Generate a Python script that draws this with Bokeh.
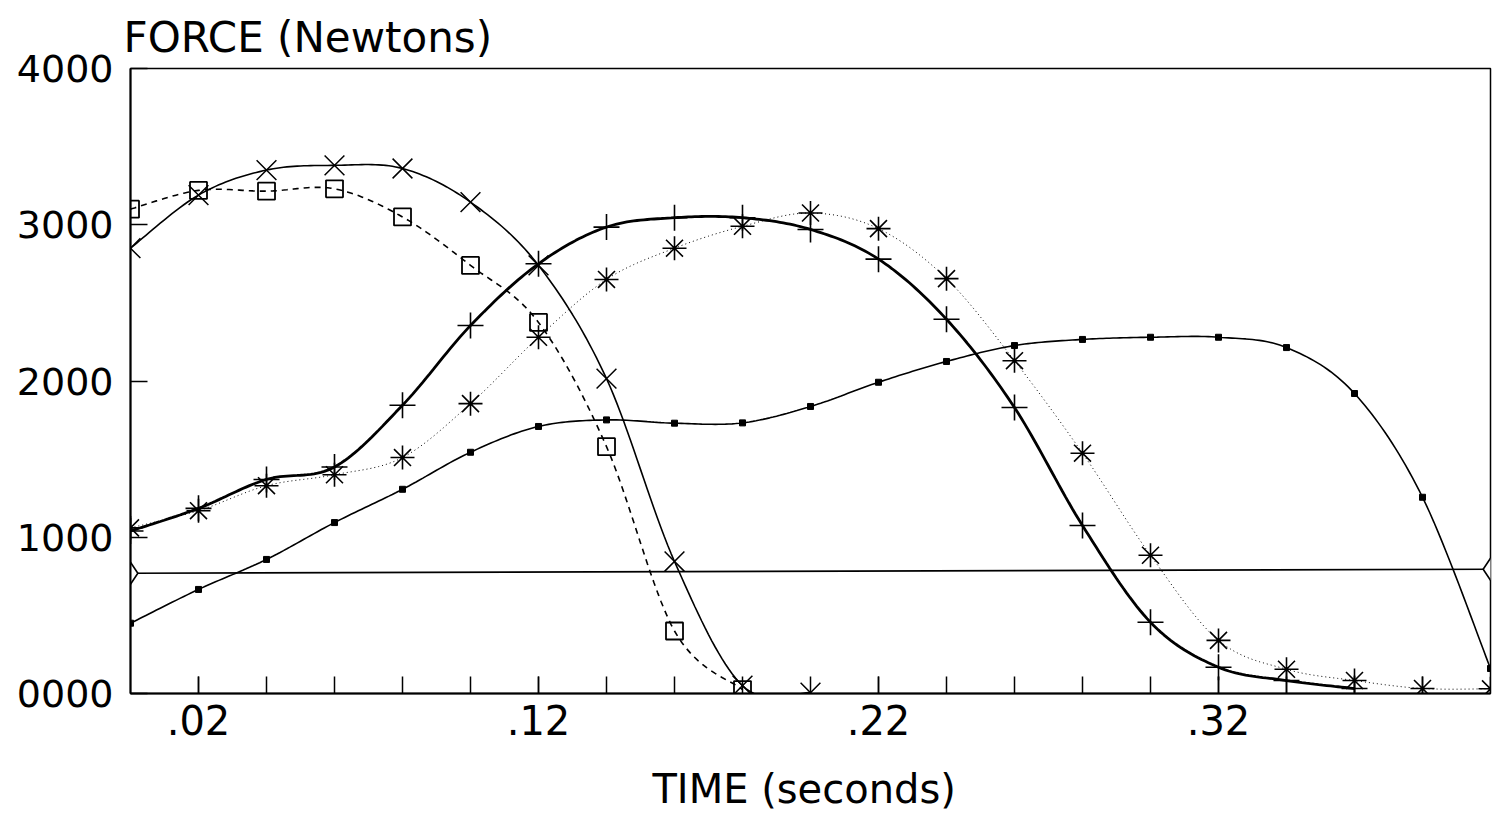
import numpy as np
from bokeh.plotting import figure
from bokeh.models import FixedTicker, Range1d
from bokeh.embed import file_html
from bokeh.resources import INLINE

# ---- data ----
time_s = [0.00, 0.02, 0.04, 0.06, 0.08, 0.10, 0.12, 0.14, 0.16, 0.18, 0.20,
          0.22, 0.24, 0.26, 0.28, 0.30, 0.32, 0.34, 0.36, 0.38, 0.40]

force_cross = [2850, 3190, 3350, 3380, 3360, 3145, 2740, 2015, 845, 50, 5]
force_square = [3100, 3220, 3215, 3230, 3050, 2740, 2375, 1580, 400, 25]
force_plus = [1040, 1185, 1370, 1450, 1845, 2355, 2750, 2985, 3045, 3045, 2970,
              2780, 2395, 1830, 1075, 456, 168, 83, 32]
force_asterisk = [1060, 1170, 1330, 1400, 1510, 1855, 2280, 2650, 2850, 2990, 3075,
                  2975, 2655, 2130, 1538, 885, 340, 155, 83, 32, 30]
force_dot = [450, 666, 858, 1094, 1307, 1544, 1709, 1751, 1730, 1732, 1837,
             1992, 2125, 2227, 2266, 2280, 2280, 2214, 1920, 1256, 160]
diamond_time = [0.00, 0.40]
force_diamond = [770, 795]

x_tick_values = [0.02, 0.12, 0.22, 0.32]
x_tick_labels = [".02", ".12", ".22", ".32"]
y_tick_values = [0, 1000, 2000, 3000, 4000]
y_tick_labels = ["0000", "1000", "2000", "3000", "4000"]

FONT = "DejaVu Sans"


def smooth(xs, ys, n=20):
    """Catmull-Rom curve through the given points (for drawing the line only)."""
    P = np.column_stack([np.asarray(xs, float), np.asarray(ys, float)])
    out = []
    m = len(P)
    for i in range(m - 1):
        p0 = P[i - 1] if i > 0 else P[i]
        p1 = P[i]
        p2 = P[i + 1]
        p3 = P[i + 2] if i + 2 < m else P[i + 1]
        t = np.linspace(0, 1, n, endpoint=(i == m - 2))[:, None]
        seg = 0.5 * (2 * p1 + (-p0 + p2) * t + (2 * p0 - 5 * p1 + 4 * p2 - p3) * t ** 2
                     + (-p0 + 3 * p1 - 3 * p2 + p3) * t ** 3)
        out.append(seg)
    c = np.vstack(out)
    return c[:, 0], c[:, 1]


p = figure(width=1500, height=815,
           x_range=Range1d(0, 0.4), y_range=Range1d(0, 4000),
           output_backend="svg", toolbar_location=None,
           min_border_left=130, min_border_right=10,
           min_border_top=68, min_border_bottom=122,
           title="FORCE (Newtons)")

p.title.text_font = FONT
p.title.text_font_size = "42px"
p.title.text_font_style = "normal"
p.title.text_color = "black"
p.title.align = "left"
p.title.offset = -7
p.title.standoff = 14

p.xgrid.visible = False
p.ygrid.visible = False
p.outline_line_color = "black"
p.outline_line_width = 1.5
p.background_fill_color = "white"
p.border_fill_color = "white"

# x axis
xa = p.xaxis[0]
xa.ticker = FixedTicker(ticks=x_tick_values,
                        minor_ticks=[round(0.02 * i, 2) for i in range(1, 20)])
xa.major_label_overrides = {v: s for v, s in zip(x_tick_values, x_tick_labels)}
xa.major_tick_in = 17
xa.major_tick_out = 0
xa.minor_tick_in = 17
xa.minor_tick_out = 0
xa.major_tick_line_width = 1.5
xa.minor_tick_line_width = 1.5
xa.major_tick_line_color = "black"
xa.minor_tick_line_color = "black"
xa.axis_line_width = 2
xa.axis_line_color = "black"
xa.major_label_text_font = FONT
xa.major_label_text_font_size = "40px"
xa.major_label_text_color = "black"
xa.major_label_standoff = 11
xa.axis_label = "TIME  (seconds)"
xa.axis_label_text_font = FONT
xa.axis_label_text_font_size = "40px"
xa.axis_label_text_font_style = "normal"
xa.axis_label_text_color = "black"
xa.axis_label_standoff = 28

# y axis
ya = p.yaxis[0]
ya.ticker = FixedTicker(ticks=y_tick_values, minor_ticks=[])
ya.major_label_overrides = {v: s for v, s in zip(y_tick_values, y_tick_labels)}
ya.major_tick_in = 17
ya.major_tick_out = 0
ya.major_tick_line_width = 1.5
ya.major_tick_line_color = "black"
ya.axis_line_width = 2
ya.axis_line_color = "black"
ya.major_label_text_font = FONT
ya.major_label_text_font_size = "38px"
ya.major_label_text_color = "black"
ya.major_label_standoff = 17

# ---- series ----
# crosses, solid thin
cx, cy = smooth(time_s[:len(force_cross)], force_cross)
p.line(cx, cy, line_color="black", line_width=1.6)
p.scatter(time_s[:len(force_cross)], force_cross, marker="x", size=28,
          line_color="black", line_width=1.5)

# hollow squares, dashed
sx, sy = smooth(time_s[:len(force_square)], force_square)
p.line(sx, sy, line_color="black", line_width=1.6, line_dash="6 5")
p.scatter(time_s[:len(force_square)], force_square, marker="square", size=17,
          line_color="black", fill_color=None, line_width=1.8)

# plus, thick solid
px_, py_ = smooth(time_s[:len(force_plus)], force_plus)
p.line(px_, py_, line_color="black", line_width=2.8)
p.scatter(time_s[:len(force_plus)], force_plus, marker="cross", size=26,
          line_color="black", line_width=1.6)

# asterisks, fine dotted
ax_, ay_ = smooth(time_s, force_asterisk)
p.line(ax_, ay_, line_color="black", line_width=1.0, line_dash="1 3")
p.scatter(time_s, force_asterisk, marker="asterisk", size=24,
          line_color="black", line_width=1.6)

# small filled squares, solid
dx, dy = smooth(time_s, force_dot)
p.line(dx, dy, line_color="black", line_width=1.6)
p.scatter(time_s, force_dot, marker="square", size=6,
          line_color="black", fill_color="black")

# diamond reference line
p.line(diamond_time, force_diamond, line_color="black", line_width=1.6)
p.scatter(diamond_time, force_diamond, marker="diamond", size=22,
          line_color="black", fill_color="white", line_width=1.6)

open("out.html", "w").write(file_html(p, INLINE))
